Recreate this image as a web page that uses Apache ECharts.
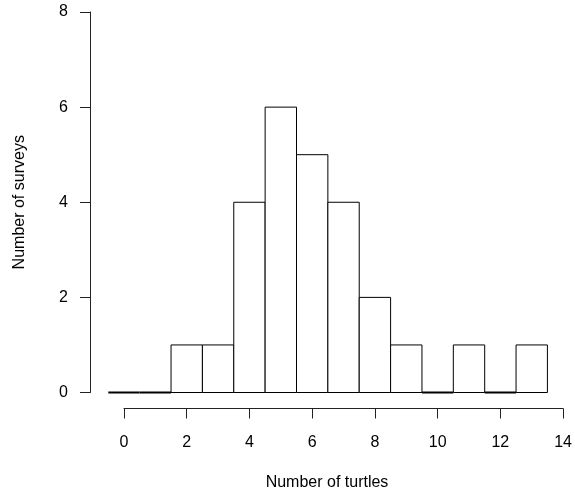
<!DOCTYPE html>
<html><head><meta charset="utf-8">
<script src="https://cdn.jsdelivr.net/npm/echarts@6/dist/echarts.min.js"></script>
<style>html,body{margin:0;padding:0;background:#fff}#c{width:575px;height:497px}</style>
</head><body><div id="c"></div>
<script>
const turtleCounts = [0,1,2,3,4,5,6,7,8,9,10,11,12,13];
const surveyCounts = [0,0,1,1,4,6,5,4,2,1,0,1,0,1];
const xTickLabels = [0,2,4,6,8,10,12,14];
const yTickLabels = [0,2,4,6,8];
const xTitle = 'Number of turtles';
const yTitle = 'Number of surveys';

const FONT = 'Liberation Sans, Arial, sans-serif';
const FS = 16;
const chart = echarts.init(document.getElementById('c'), null, {renderer:'canvas'});
const axisCommon = {
  type:'value',
  axisLine:{show:true, onZero:false, lineStyle:{color:'#222', width:1}},
  axisTick:{show:true, length:10, lineStyle:{color:'#222', width:1}},
  splitLine:{show:false},
  axisLabel:{color:'#000', fontFamily:FONT, fontSize:FS}
};
chart.setOption({
  animation:false,
  backgroundColor:'#fff',
  grid:{left:124, top:12, width:439.3, height:380.5, containLabel:false},
  xAxis:Object.assign({}, axisCommon, {
    min:xTickLabels[0], max:xTickLabels[xTickLabels.length-1], interval:2,
    offset:16,
    axisLabel:Object.assign({}, axisCommon.axisLabel, {margin:26})
  }),
  yAxis:Object.assign({}, axisCommon, {
    min:yTickLabels[0], max:yTickLabels[yTickLabels.length-1], interval:2,
    offset:34,
    axisLabel:Object.assign({}, axisCommon.axisLabel, {margin:22}),
    name:yTitle, nameLocation:'middle', nameGap:62,
    nameTextStyle:{color:'#000', fontFamily:FONT, fontSize:FS}
  }),
  graphic:[{
    type:'text',
    x:327, y:483,
    style:{text:xTitle, fill:'#000', font:FS + 'px ' + FONT, align:'center', verticalAlign:'middle'}
  }],
  series:[{
    type:'custom',
    clip:false,
    data:turtleCounts.map((t,i)=>[t, surveyCounts[i]]),
    renderItem:function(params, api){
      const x = api.value(0), v = api.value(1);
      const p0 = api.coord([x-0.5, v]);
      const p1 = api.coord([x+0.5, 0]);
      return {
        type:'rect',
        shape:{x:p0[0], y:p0[1], width:p1[0]-p0[0], height:p1[1]-p0[1]},
        style:{fill:'#fff', stroke:'#000', lineWidth: v === 0 ? 2 : 1}
      };
    }
  }]
});
</script>
</body></html>
